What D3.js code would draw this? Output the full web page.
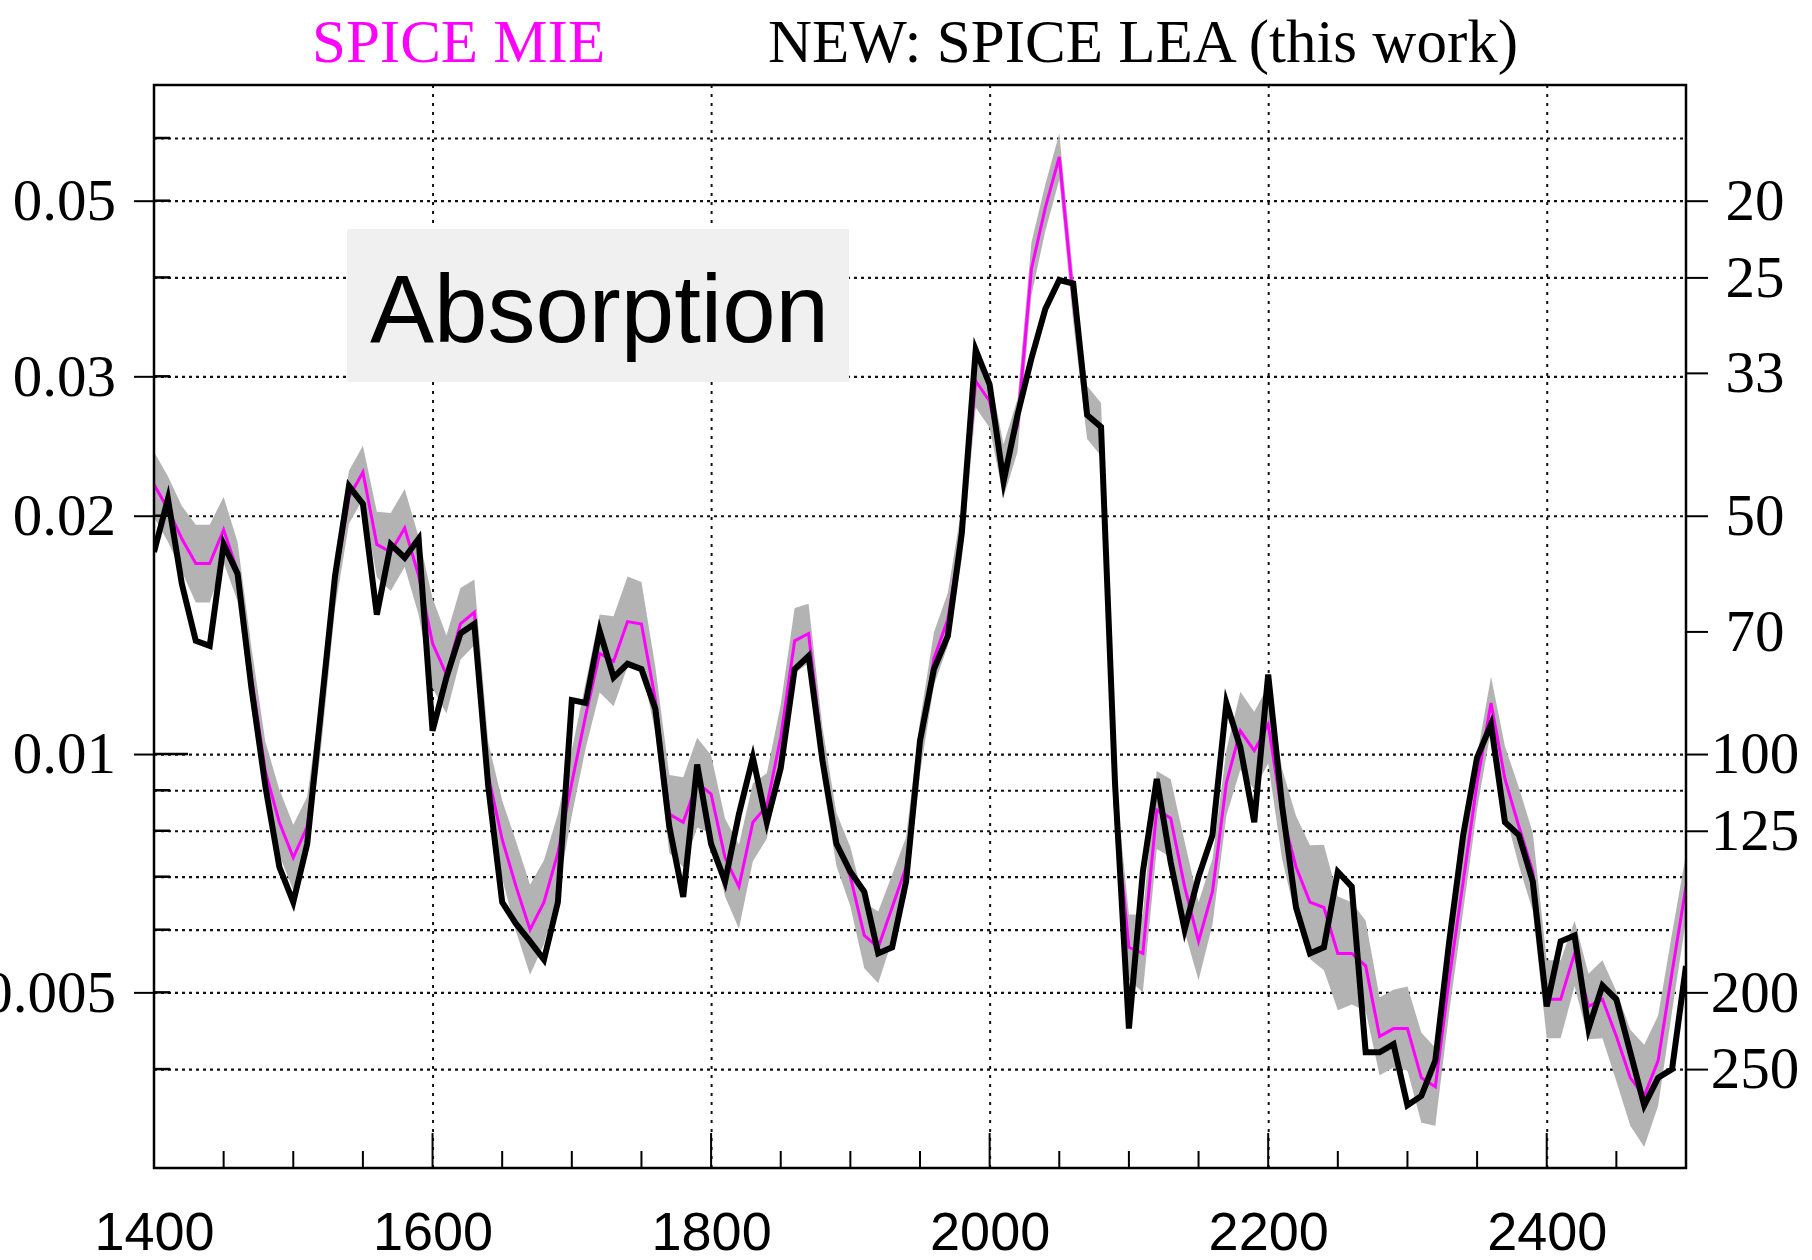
<!DOCTYPE html>
<html lang="en">
<head>
	<meta charset="utf-8" />
	<title>Absorption</title>
	<style type="text/css">
		body { margin: 0; background: #fff; }
	</style>
</head>
<body>
	<div id="graph"></div>
	<script src="https://d3js.org/d3.v7.min.js"></script>
	<script type="text/javascript">
		var CHART_WIDTH = 1812;
		var CHART_HEIGHT = 1260;
		var margin = { top: 85, right: 126, bottom: 92, left: 154 },
			width = CHART_WIDTH - margin.left - margin.right,
			height = CHART_HEIGHT - margin.top - margin.bottom;

		// depth in m, one point every 10 m
		var depths = d3.range(1400, 2501, 10);

		// NEW: SPICE LEA (black)
		var leaValues = [
			0.0180, 0.0210, 0.0164, 0.0139, 0.0137, 0.0184, 0.0169, 0.0121, 0.0091, 0.0072,
			0.0065, 0.0077, 0.0114, 0.0168, 0.0218, 0.0207, 0.0150, 0.0184, 0.0177, 0.0187,
			0.0107, 0.0125, 0.0142, 0.0146, 0.0091, 0.0065, 0.0061, 0.0058, 0.0055, 0.0065,
			0.0117, 0.0116, 0.0143, 0.0125, 0.0130, 0.0128, 0.0114, 0.0081, 0.0066, 0.0097,
			0.0077, 0.0069, 0.0084, 0.0099, 0.0082, 0.0096, 0.0128, 0.0133, 0.0098, 0.0077,
			0.0071, 0.0067, 0.0056, 0.0057, 0.0069, 0.0104, 0.0128, 0.0141, 0.0190, 0.0324,
			0.0293, 0.0221, 0.0268, 0.0316, 0.0365, 0.0397, 0.0393, 0.0268, 0.0259, 0.0092,
			0.0045, 0.0071, 0.0093, 0.0073, 0.0060, 0.0070, 0.0079, 0.0116, 0.0102, 0.0082,
			0.0126, 0.0086, 0.0064, 0.0056, 0.0057, 0.0071, 0.0068, 0.0042, 0.0042, 0.0043,
			0.0036, 0.0037, 0.0041, 0.0058, 0.0079, 0.0099, 0.0109, 0.0082, 0.0079, 0.0069,
			0.0048, 0.0058, 0.0059, 0.0045, 0.0051, 0.0049, 0.0042, 0.0036, 0.0039, 0.0040,
			0.0054];

		// SPICE MIE (magenta)
		var mieValues = [
			0.0219, 0.0204, 0.0187, 0.0174, 0.0174, 0.0192, 0.0170, 0.0125, 0.0095, 0.0082,
			0.0074, 0.0081, 0.0110, 0.0165, 0.0211, 0.0227, 0.0184, 0.0180, 0.0193, 0.0168,
			0.0138, 0.0126, 0.0146, 0.0151, 0.0094, 0.0078, 0.0068, 0.0060, 0.0065, 0.0075,
			0.0092, 0.0112, 0.0134, 0.0131, 0.0147, 0.0146, 0.0117, 0.0084, 0.0082, 0.0092,
			0.0089, 0.0074, 0.0068, 0.0082, 0.0086, 0.0105, 0.0139, 0.0142, 0.0100, 0.0078,
			0.0070, 0.0059, 0.0057, 0.0064, 0.0072, 0.0102, 0.0132, 0.0148, 0.0190, 0.0296,
			0.0279, 0.0228, 0.0260, 0.0410, 0.0490, 0.0568, 0.0376, 0.0270, 0.0257, 0.0086,
			0.0057, 0.0056, 0.0085, 0.0083, 0.0068, 0.0058, 0.0067, 0.0092, 0.0107, 0.0101,
			0.0109, 0.0084, 0.0072, 0.0065, 0.0064, 0.0056, 0.0056, 0.0054, 0.0044, 0.0045,
			0.0045, 0.0039, 0.0038, 0.0052, 0.0069, 0.0092, 0.0116, 0.0093, 0.0081, 0.0071,
			0.0049, 0.0049, 0.0056, 0.0048, 0.0049, 0.0044, 0.0039, 0.0037, 0.0041, 0.0053,
			0.0068];

		// relative half width of the grey uncertainty band around MIE
		var mieErr = [
			0.10, 0.10, 0.10, 0.12, 0.12, 0.10, 0.09, 0.09, 0.09, 0.10,
			0.10, 0.09, 0.08, 0.08, 0.08, 0.08, 0.10, 0.12, 0.12, 0.12,
			0.14, 0.12, 0.11, 0.10, 0.10, 0.12, 0.14, 0.14, 0.13, 0.12,
			0.10, 0.10, 0.12, 0.14, 0.14, 0.13, 0.10, 0.12, 0.14, 0.14,
			0.12, 0.12, 0.13, 0.12, 0.10, 0.10, 0.10, 0.09, 0.08, 0.08,
			0.09, 0.10, 0.11, 0.10, 0.09, 0.08, 0.08, 0.08, 0.08, 0.08,
			0.08, 0.08, 0.08, 0.08, 0.07, 0.07, 0.07, 0.08, 0.08, 0.09,
			0.10, 0.12, 0.12, 0.12, 0.14, 0.12, 0.10, 0.10, 0.12, 0.12,
			0.12, 0.14, 0.16, 0.18, 0.20, 0.18, 0.16, 0.14, 0.12, 0.12,
			0.13, 0.14, 0.12, 0.10, 0.09, 0.08, 0.08, 0.10, 0.12, 0.12,
			0.12, 0.12, 0.10, 0.10, 0.12, 0.14, 0.15, 0.16, 0.14, 0.12,
			0.10];

		var xTicks = [1400, 1600, 1800, 2000, 2200, 2400];
		var xMinorTicks = d3.range(1450, 2500, 50);
		var yLabelTicks = [0.005, 0.01, 0.02, 0.03, 0.05];
		var yGridTicks = [0.004, 0.005, 0.006, 0.007, 0.008, 0.009, 0.01, 0.02, 0.03, 0.04, 0.05, 0.06];
		var rightTicks = [20, 25, 33, 50, 70, 100, 125, 200, 250];

		var data = depths.map(function(d, i) {
			return { depth: d, lea: leaValues[i], mie: mieValues[i], err: mieErr[i] };
		});

		var svg = d3.select("#graph").append("svg")
			.attr("width", CHART_WIDTH)
			.attr("height", CHART_HEIGHT)
			.style("display", "block");

		var g = svg.append("g")
			.attr("transform", "translate(" + margin.left + "," + margin.top + ")");

		var xScale = d3.scaleLinear().domain([1400, 2500]).range([0, width]);
		var yScale = d3.scaleLog().domain([0.003, 0.07]).range([height, 0]);

		g.append("defs").append("clipPath").attr("id", "clip")
			.append("rect").attr("width", width).attr("height", height);

		// grid
		g.append("g")
			.attr("class", "grid-y")
			.call(d3.axisLeft(yScale).tickValues(yGridTicks).tickSize(-width).tickFormat(""))
			.call(function(s) { s.select(".domain").remove(); })
			.selectAll("line")
			.attr("stroke", "#111")
			.attr("stroke-width", 2.2)
			.attr("stroke-dasharray", "3,4");

		g.append("g")
			.attr("class", "grid-x")
			.attr("transform", "translate(0," + height + ")")
			.call(d3.axisBottom(xScale).tickValues(xTicks.slice(1)).tickSize(-height).tickFormat(""))
			.call(function(s) { s.select(".domain").remove(); })
			.selectAll("line")
			.attr("stroke", "#111")
			.attr("stroke-width", 2)
			.attr("stroke-dasharray", "3,6");

		var plot = g.append("g").attr("clip-path", "url(#clip)");

		// uncertainty band
		plot.append("path")
			.datum(data)
			.attr("fill", "#b3b3b3")
			.attr("d", d3.area()
				.x(function(d) { return xScale(d.depth); })
				.y0(function(d) { return yScale(d.mie / (1 + d.err)); })
				.y1(function(d) { return yScale(d.mie * (1 + d.err)); }));

		plot.append("path")
			.datum(data)
			.attr("fill", "none")
			.attr("stroke", "#ff00ff")
			.attr("stroke-width", 3)
			.attr("stroke-linejoin", "miter")
			.attr("d", d3.line()
				.x(function(d) { return xScale(d.depth); })
				.y(function(d) { return yScale(d.mie); }));

		plot.append("path")
			.datum(data)
			.attr("fill", "none")
			.attr("stroke", "#000")
			.attr("stroke-width", 6)
			.attr("stroke-linejoin", "miter")
			.attr("stroke-miterlimit", 6)
			.attr("d", d3.line()
				.x(function(d) { return xScale(d.depth); })
				.y(function(d) { return yScale(d.lea); }));

		// inner ticks
		g.append("g")
			.selectAll("line.xminor")
			.data(xMinorTicks)
			.enter().append("line")
			.attr("x1", function(d) { return xScale(d); })
			.attr("x2", function(d) { return xScale(d); })
			.attr("y1", height)
			.attr("y2", function(d) { return height - (d % 200 === 0 ? 35 : 17); })
			.attr("stroke", "#000")
			.attr("stroke-width", 2);

		g.append("g")
			.selectAll("line.yminor")
			.data(yGridTicks)
			.enter().append("line")
			.attr("x1", 0)
			.attr("x2", function(d) { return d === 0.01 ? 34 : 16; })
			.attr("y1", function(d) { return yScale(d); })
			.attr("y2", function(d) { return yScale(d); })
			.attr("stroke", "#000")
			.attr("stroke-width", 2.5);

		// frame
		g.append("rect")
			.attr("width", width)
			.attr("height", height)
			.attr("fill", "none")
			.attr("stroke", "#000")
			.attr("stroke-width", 2.5);

		// left axis
		var leftAxis = g.append("g")
			.attr("class", "y axis")
			.call(d3.axisLeft(yScale).tickValues(yLabelTicks).tickSize(20).tickPadding(18)
				.tickFormat(function(d) { return String(d); }));
		leftAxis.select(".domain").remove();
		leftAxis.selectAll("line").attr("stroke", "#000").attr("stroke-width", 2);
		leftAxis.selectAll("text")
			.attr("fill", "#000")
			.style("font-family", "'Liberation Serif', 'Times New Roman', serif")
			.style("font-size", "59px");

		// right axis: absorption length in m
		var rightAxis = g.append("g")
			.attr("class", "y2 axis")
			.attr("transform", "translate(" + width + ",0)")
			.call(d3.axisRight(yScale).tickValues(rightTicks.map(function(d) { return 1 / d; }))
				.tickSize(22).tickPadding(0)
				.tickFormat(function(d) { return String(Math.round(1 / d)); }));
		rightAxis.select(".domain").remove();
		rightAxis.selectAll("line").attr("stroke", "#000").attr("stroke-width", 2);
		rightAxis.selectAll("text")
			.attr("x", 69)
			.attr("text-anchor", "middle")
			.attr("fill", "#000")
			.style("font-family", "'Liberation Serif', 'Times New Roman', serif")
			.style("font-size", "59px");

		// bottom axis labels
		var bottomAxis = g.append("g")
			.attr("class", "x axis")
			.attr("transform", "translate(0," + height + ")")
			.call(d3.axisBottom(xScale).tickValues(xTicks).tickSize(0).tickPadding(44)
				.tickFormat(d3.format("d")));
		bottomAxis.select(".domain").remove();
		bottomAxis.selectAll("text")
			.attr("fill", "#000")
			.style("font-family", "'Liberation Sans', Arial, sans-serif")
			.style("font-size", "54px");

		// titles
		svg.append("text")
			.attr("x", 312)
			.attr("y", 62)
			.attr("fill", "#ff00ff")
			.style("font-family", "'Liberation Serif', 'Times New Roman', serif")
			.style("font-size", "61px")
			.text("SPICE MIE");

		svg.append("text")
			.attr("x", 768)
			.attr("y", 62)
			.attr("fill", "#000")
			.style("font-family", "'Liberation Serif', 'Times New Roman', serif")
			.style("font-size", "61px")
			.text("NEW: SPICE LEA (this work)");

		// label box
		svg.append("rect")
			.attr("x", 347)
			.attr("y", 229)
			.attr("width", 502)
			.attr("height", 153)
			.attr("fill", "#f0f0f0");

		svg.append("text")
			.attr("x", 370)
			.attr("y", 342)
			.attr("fill", "#000")
			.style("font-family", "'Liberation Sans', Arial, sans-serif")
			.style("font-size", "96px")
			.text("Absorption");
	</script>
</body>
</html>
